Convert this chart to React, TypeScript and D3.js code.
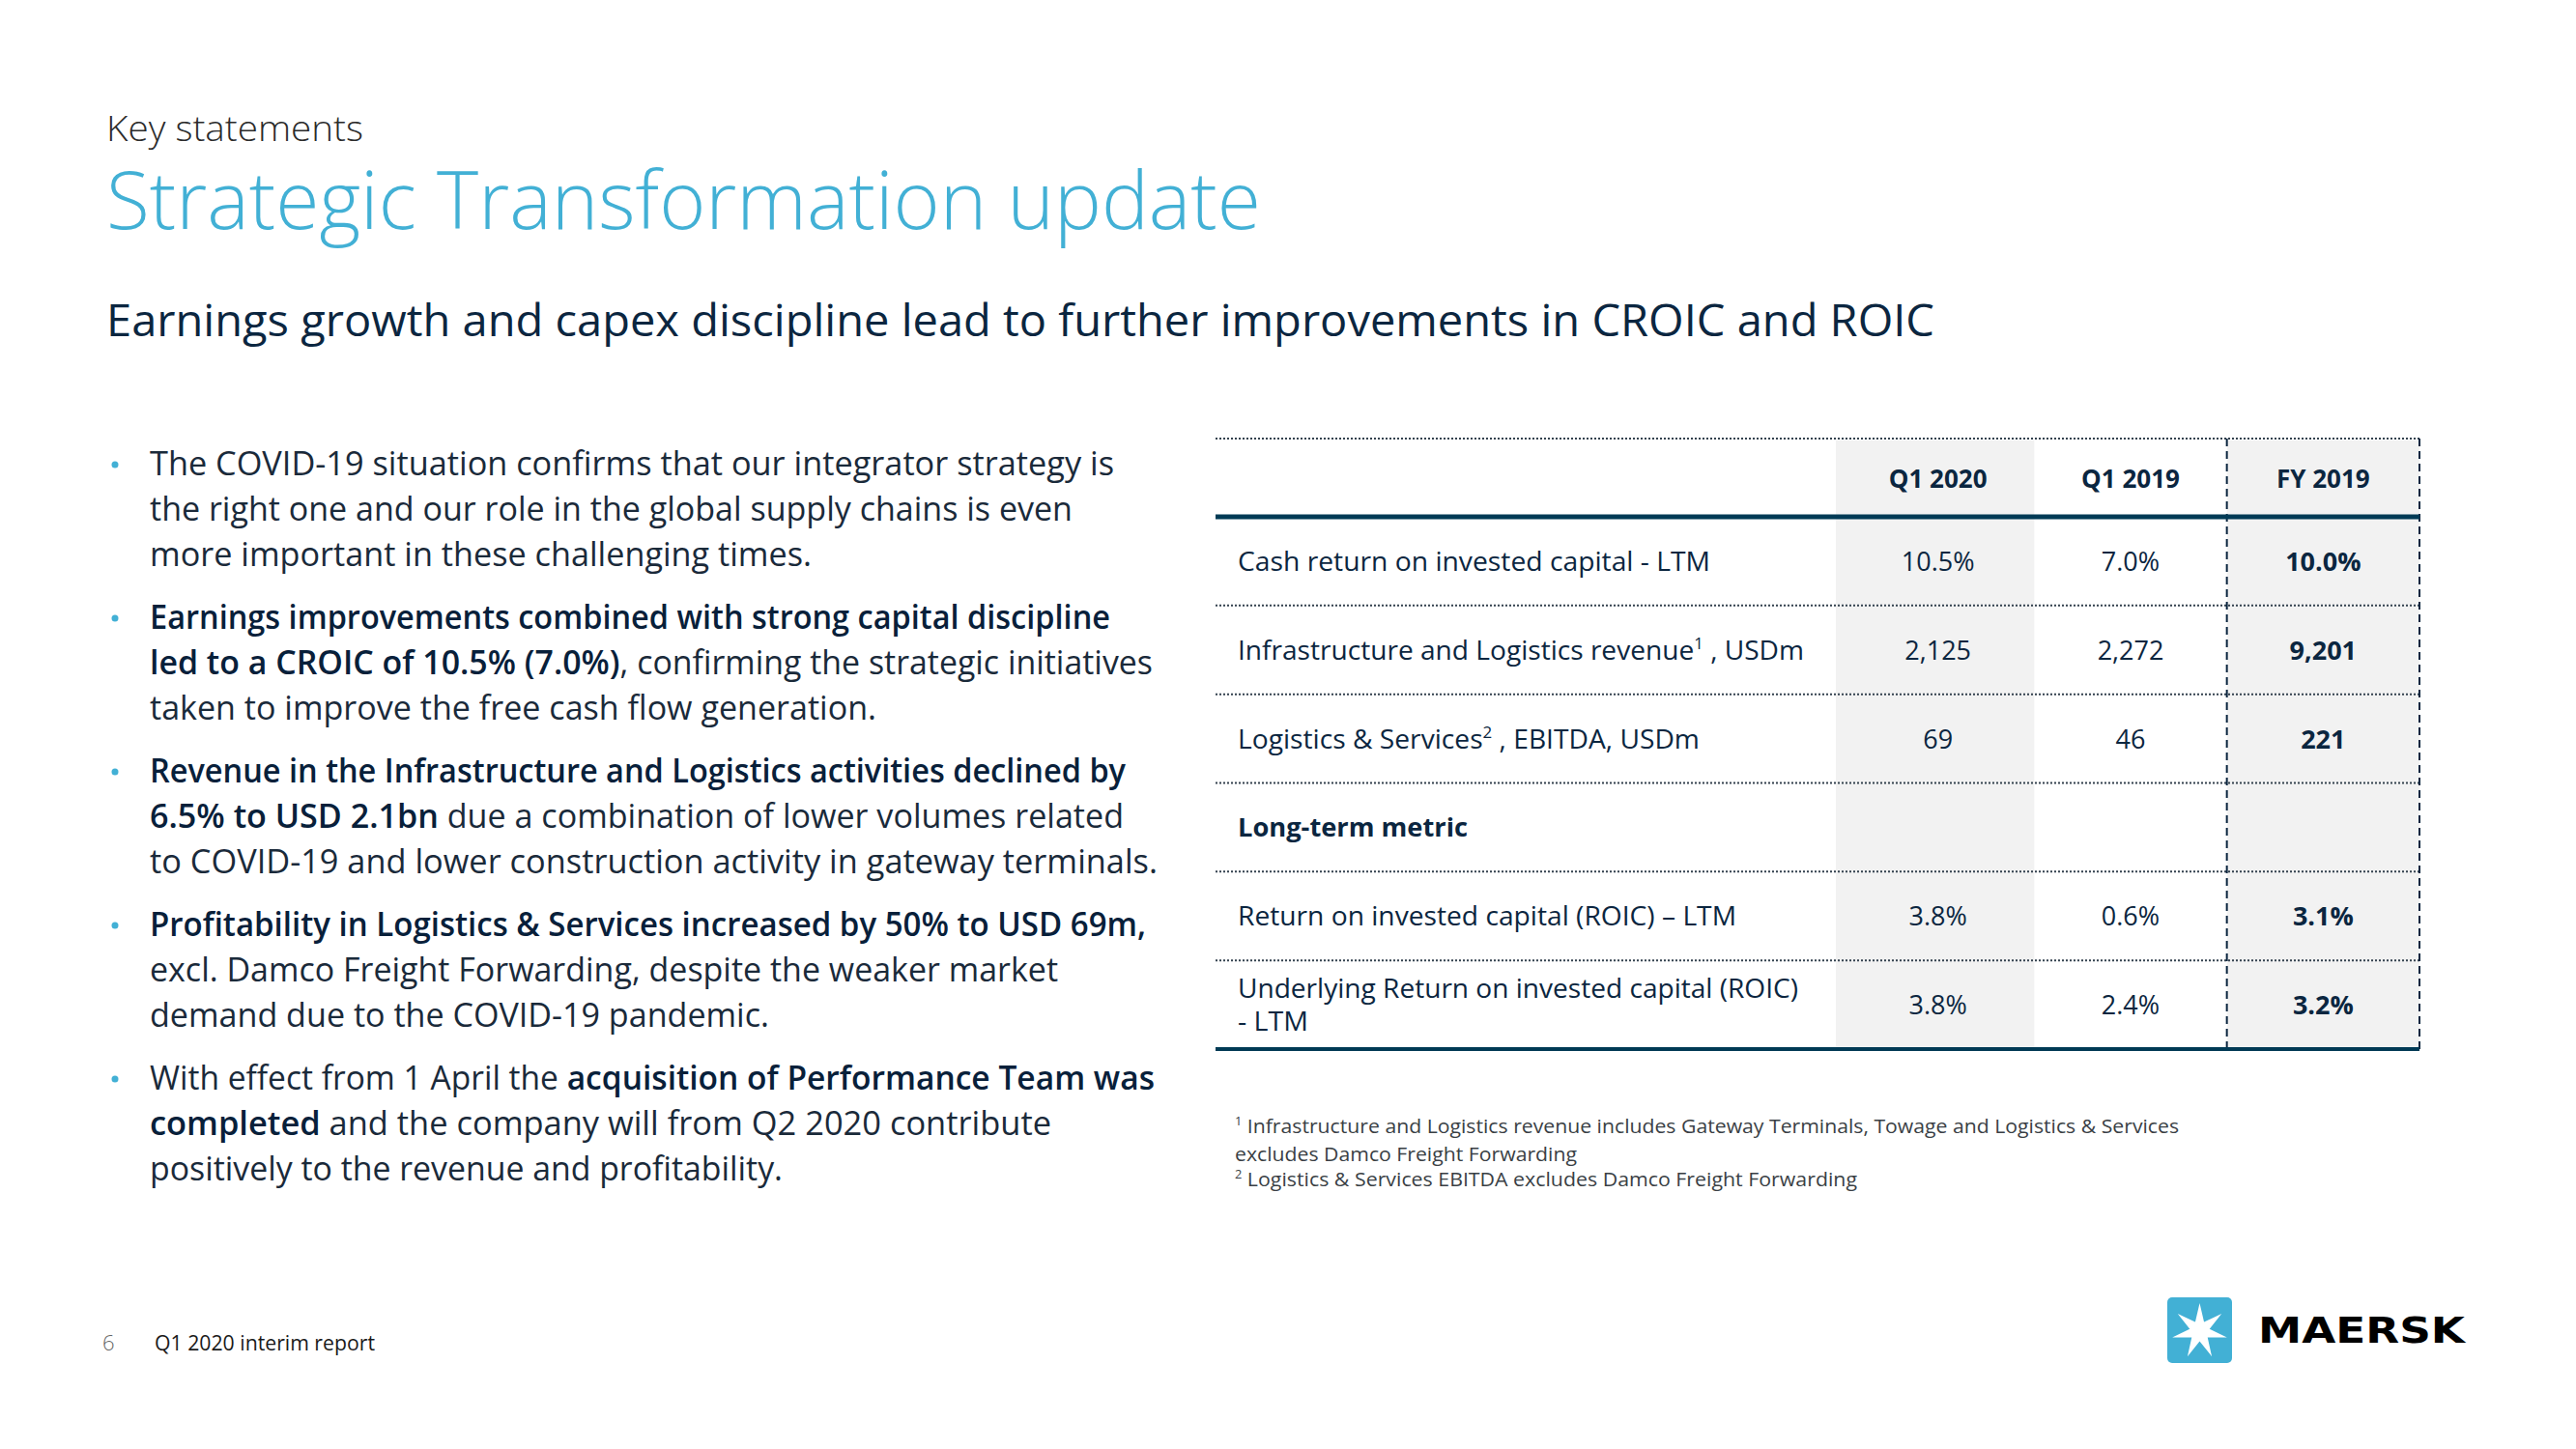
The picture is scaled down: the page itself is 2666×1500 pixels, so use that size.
import React from "react";
import * as d3 from "d3";

// ---------- DATA ----------
const kicker = "Key statements";
const title = "Strategic Transformation update";
const subtitle = "Earnings growth and capex discipline lead to further improvements in CROIC and ROIC";

type Seg = { t: string; b?: boolean };
const bullets: Seg[][][] = [
  [
    [{ t: "The COVID-19 situation confirms that our integrator strategy is" }],
    [{ t: "the right one and our role in the global supply chains is even" }],
    [{ t: "more important in these challenging times." }],
  ],
  [
    [{ t: "Earnings improvements combined with strong capital discipline", b: true }],
    [{ t: "led to a CROIC of 10.5% (7.0%)", b: true }, { t: ", confirming the strategic initiatives" }],
    [{ t: "taken to improve the free cash flow generation." }],
  ],
  [
    [{ t: "Revenue in the Infrastructure and Logistics activities declined by", b: true }],
    [{ t: "6.5% to USD 2.1bn", b: true }, { t: " due a combination of lower volumes related" }],
    [{ t: "to COVID-19 and lower construction activity in gateway terminals." }],
  ],
  [
    [{ t: "Profitability in Logistics & Services increased by 50% to USD 69m,", b: true }],
    [{ t: "excl. Damco Freight Forwarding, despite the weaker market" }],
    [{ t: "demand due to the COVID-19 pandemic." }],
  ],
  [
    [{ t: "With effect from 1 April the " }, { t: "acquisition of Performance Team was", b: true }],
    [{ t: "completed", b: true }, { t: " and the company will from Q2 2020 contribute" }],
    [{ t: "positively to the revenue and profitability." }],
  ],
];

const columns = ["Q1 2020", "Q1 2019", "FY 2019"];
const rowKeys = ["croic", "revenue", "ebitda", "longterm", "roic", "uroic"];
type LabelSeg = { t: string; sup?: boolean };
const rowLabels: LabelSeg[][][] = [
  [[{ t: "Cash return on invested capital - LTM" }]],
  [[{ t: "Infrastructure and Logistics revenue" }, { t: "1", sup: true }, { t: " , USDm" }]],
  [[{ t: "Logistics & Services" }, { t: "2", sup: true }, { t: " , EBITDA, USDm" }]],
  [[{ t: "Long-term metric" }]],
  [[{ t: "Return on invested capital (ROIC) – LTM" }]],
  [[{ t: "Underlying Return on invested capital (ROIC)" }], [{ t: "- LTM" }]],
];
const boldRows = ["longterm"];
const valuesQ12020 = ["10.5%", "2,125", "69", "", "3.8%", "3.8%"];
const valuesQ12019 = ["7.0%", "2,272", "46", "", "0.6%", "2.4%"];
const valuesFY2019 = ["10.0%", "9,201", "221", "", "3.1%", "3.2%"];
const shadedColumns = ["Q1 2020", "FY 2019"];
const boldColumns = ["FY 2019"];

const footnotes: LabelSeg[][] = [
  [{ t: "1", sup: true }, { t: " Infrastructure and Logistics revenue includes Gateway Terminals, Towage and Logistics & Services" }],
  [{ t: "excludes Damco Freight Forwarding" }],
  [{ t: "2", sup: true }, { t: " Logistics & Services EBITDA excludes Damco Freight Forwarding" }],
];
const pageNumber = "6";
const footerText = "Q1 2020 interim report";
const brand = "MAERSK";

// ---------- LAYOUT / STYLE ----------
const W = 2666;
const H = 1500;
const FONT = "'Open Sans', 'Noto Sans', sans-serif";
const BLUE = "#42B0D5";
const NAVY = "#0b2640";
const TEXT = "#1a2a3a";

const bulletLineWidths = [
  [998, 955, 685],
  [994, 1038, 752],
  [1010, 1008, 1043],
  [1031, 940, 641],
  [1040, 933, 655],
];
const labelWidths = [[489], [586], [478], [238], [516], [580, 73]];
const footWidths = [977, 354, 644];

export default function App() {
  const valueCols = [valuesQ12020, valuesQ12019, valuesFY2019];
  const tableLeft = 1258;
  const tableRight = 2504;
  const tableTop = 454;
  const headBottom = 535;
  const tableBottom = 1086;

  const x = d3.scaleBand<string>().domain(columns).range([1906, tableRight]).padding(0);
  const y = d3.scaleBand<string>().domain(rowKeys).range([headBottom, tableBottom]).padding(0);
  const firstColLeft = 1900;

  const bulletY0 = 492;
  const bulletStep = 159;
  const lineStep = 47;

  // star
  const starPts: [number, number][] = d3.range(14).map((i) => {
    const a = (i * Math.PI) / 7 - Math.PI / 2;
    const r = i % 2 === 0 ? 29 : 10.5;
    return [r * Math.cos(a), r * Math.sin(a)];
  });
  const starPath = d3.line()(starPts) + "Z";

  const renderSegs = (segs: LabelSeg[], fs: number) =>
    segs.map((s, k) =>
      s.sup ? (
        <tspan key={k} fontSize={fs * 0.6} dy={-fs * 0.38}>
          {s.t}
        </tspan>
      ) : (
        <tspan key={k} dy={k > 0 && segs[k - 1].sup ? fs * 0.38 : 0}>
          {s.t}
        </tspan>
      )
    );

  return (
    <svg
      width={W}
      height={H}
      style={{ position: "absolute", left: 0, top: 0, display: "block", background: "#fff" }}
      fontFamily={FONT}
    >
      <rect width={W} height={H} fill="#fff" />
      {/* Header */}
      <text x={110} y={146} fontSize={37} fontWeight={300} fill="#2b2b2b" textLength={266} lengthAdjust="spacingAndGlyphs">
        {kicker}
      </text>
      <text x={110} y={237} fontSize={83} fontWeight={300} fill={BLUE} textLength={1195} lengthAdjust="spacingAndGlyphs">
        {title}
      </text>
      <text x={110} y={348} fontSize={46} fontWeight={400} fill={NAVY} textLength={1892} lengthAdjust="spacingAndGlyphs">
        {subtitle}
      </text>

      {/* Bullets */}
      {bullets.map((lines, bi) => (
        <g key={bi}>
          <circle cx={119} cy={bulletY0 + bi * bulletStep - 11} r={3.5} fill={BLUE} />
          {lines.map((segs, li) => (
            <text
              key={li}
              x={155}
              y={bulletY0 + bi * bulletStep + li * lineStep}
              fontSize={34}
              fill={TEXT}
              textLength={bulletLineWidths[bi][li]}
              lengthAdjust="spacingAndGlyphs"
            >
              {segs.map((s, k) => (
                <tspan key={k} fontWeight={s.b ? 600 : 400} fill={s.b ? "#08203a" : TEXT}>
                  {s.t}
                </tspan>
              ))}
            </text>
          ))}
        </g>
      ))}

      {/* Table shading */}
      {columns
        .filter((c) => shadedColumns.includes(c))
        .map((c, i) => {
          const left = c === columns[0] ? firstColLeft : (x(c) as number);
          const right = (x(c) as number) + x.bandwidth();
          return <rect key={c} x={left} y={tableTop + 2} width={right - left} height={tableBottom - tableTop - 2} fill="#f2f2f2" />;
        })}

      {/* Top dotted line */}
      <line x1={tableLeft} x2={tableRight} y1={tableTop} y2={tableTop} stroke="#34424f" strokeWidth={2} strokeDasharray="2,2" />
      {/* Row dotted separators */}
      {rowKeys.slice(1).map((k) => (
        <line key={k} x1={tableLeft} x2={tableRight} y1={y(k)} y2={y(k)} stroke="#34424f" strokeWidth={2} strokeDasharray="2,2" />
      ))}

      {/* Dashed FY box */}
      <line x1={x("FY 2019")} x2={x("FY 2019")} y1={tableTop} y2={tableBottom} stroke={NAVY} strokeWidth={2} strokeDasharray="8,5" />
      <line x1={tableRight} x2={tableRight} y1={tableTop} y2={tableBottom} stroke={NAVY} strokeWidth={2} strokeDasharray="8,5" />

      {/* Thick rules */}
      <line x1={tableLeft} x2={tableRight} y1={headBottom} y2={headBottom} stroke="#003a55" strokeWidth={5} />
      <line x1={tableLeft} x2={tableRight} y1={tableBottom} y2={tableBottom} stroke="#003a55" strokeWidth={4} />

      {/* Column headers */}
      {columns.map((c) => (
        <text
          key={c}
          x={(x(c) as number) + x.bandwidth() / 2}
          y={(tableTop + headBottom) / 2 + 10}
          textAnchor="middle"
          fontSize={26}
          fontWeight={700}
          fill={NAVY}
        >
          {c}
        </text>
      ))}

      {/* Row labels */}
      {rowKeys.map((k, ri) => {
        const lines = rowLabels[ri];
        const cy = (y(k) as number) + y.bandwidth() / 2;
        const fs = 27;
        const lh = 34;
        const first = cy + 10 - ((lines.length - 1) * lh) / 2;
        return lines.map((segs, li) => (
          <text
            key={k + li}
            x={1281}
            y={first + li * lh}
            fontSize={fs}
            fontWeight={boldRows.includes(k) ? 700 : 400}
            fill={NAVY}
            textLength={labelWidths[ri][li]}
            lengthAdjust="spacingAndGlyphs"
          >
            {renderSegs(segs, fs)}
          </text>
        ));
      })}

      {/* Values */}
      {columns.map((c, ci) =>
        rowKeys.map((k, ri) => (
          <text
            key={c + k}
            x={(x(c) as number) + x.bandwidth() / 2}
            y={(y(k) as number) + y.bandwidth() / 2 + 10}
            textAnchor="middle"
            fontSize={27}
            fontWeight={boldColumns.includes(c) ? 700 : 400}
            fill={NAVY}
          >
            {valueCols[ci][ri]}
          </text>
        ))
      )}

      {/* Footnotes */}
      {footnotes.map((segs, i) => (
        <text
          key={i}
          x={1278}
          y={1173 + [0, 29, 55][i]}
          fontSize={20}
          fill="#3a3f45"
          textLength={footWidths[i]}
          lengthAdjust="spacingAndGlyphs"
        >
          {renderSegs(segs, 20)}
        </text>
      ))}

      {/* Footer */}
      <text x={106} y={1398} fontSize={22} fontWeight={300} fill="#666">
        {pageNumber}
      </text>
      <text x={160} y={1398} fontSize={21} fill="#1a1a1a" textLength={228} lengthAdjust="spacingAndGlyphs">
        {footerText}
      </text>

      {/* Logo */}
      <rect x={2243} y={1343} width={67} height={68} rx={5} fill={BLUE} />
      <path d={starPath} transform="translate(2276.5,1378)" fill="#fff" />
      <text
        x={2337}
        y={1390}
        fontSize={38}
        fontWeight={700}
        fontFamily="'DejaVu Sans', sans-serif"
        fill="#000"
        textLength={214}
        lengthAdjust="spacingAndGlyphs"
      >
        {brand}
      </text>
    </svg>
  );
}
